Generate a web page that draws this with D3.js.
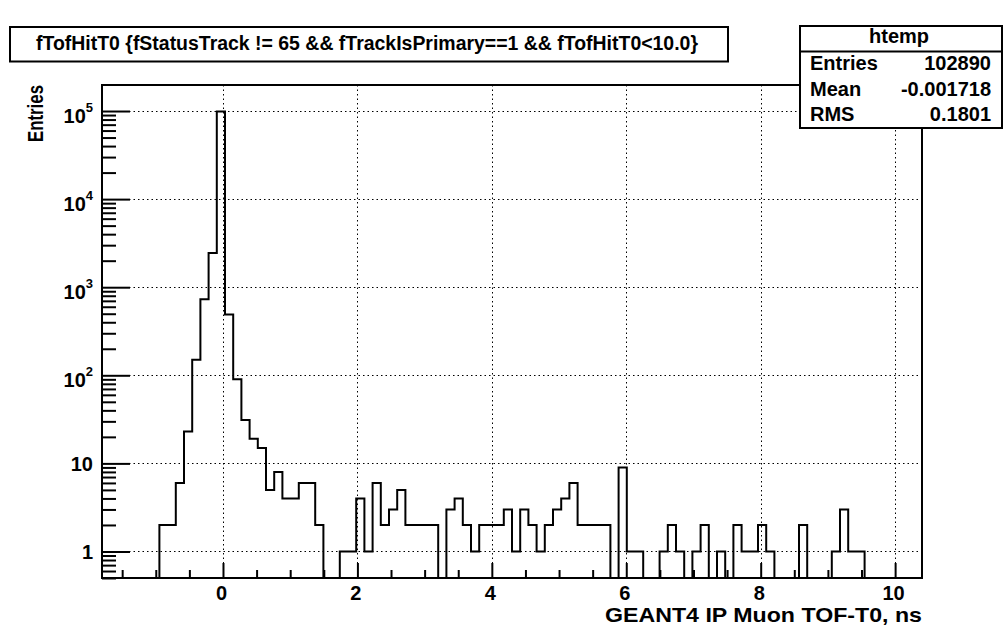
<!DOCTYPE html>
<html>
<head>
<meta charset="utf-8">
<script src="https://cdn.jsdelivr.net/npm/d3@7"></script>
<style>
  body { margin: 0; background: #fff; }
  svg { display: block; }
  text { font-family: "Liberation Sans", Arial, Helvetica, sans-serif; font-weight: bold; fill: #000; }
</style>
</head>
<body>
<script>
// histogram definition: 100 bins from -1.8 to 10.4 ns
var binLow = -1.8;
var binHigh = 10.4;
var nBins = 100;

// bin contents (log y)
var counts = [
  0, 0, 0, 0, 0, 0, 0, 2, 2, 6,
  23, 150, 730, 2450, 98700, 490, 90, 31, 19, 15,
  5, 8, 4, 4, 6, 6, 2, 0, 0, 1,
  1, 4, 1, 6, 2, 3, 5, 2, 2, 2,
  2, 0, 3, 4, 2, 1, 2, 2, 2, 3,
  1, 3, 2, 1, 2, 3, 4, 6, 2, 2,
  2, 2, 0, 9, 1, 1, 0, 0, 1, 2,
  1, 0, 1, 2, 0, 1, 0, 2, 1, 1,
  2, 1, 0, 0, 0, 2, 0, 0, 0, 1,
  3, 1, 1, 0, 0, 0, 0, 0, 0, 0
];

var xMajorTicks = [0, 2, 4, 6, 8, 10];
var xMinorTicks = [-1.5, -1, -0.5, 0.5, 1, 1.5, 2.5, 3, 3.5, 4.5, 5, 5.5, 6.5, 7, 7.5, 8.5, 9, 9.5];
var yMajorTicks = [1, 10, 100, 1000, 10000, 100000];
var yTickExp = ["", "", "2", "3", "4", "5"];
var yTickBase = ["1", "10", "10", "10", "10", "10"];

var titleText = "fTofHitT0 {fStatusTrack != 65 && fTrackIsPrimary==1 && fTofHitT0<10.0}";
var xTitle = "GEANT4 IP Muon TOF-T0, ns";
var yTitle = "Entries";
var statsName = "htemp";
var statsLabels = ["Entries", "Mean", "RMS"];
var statsValues = ["102890", "-0.001718", "0.1801"];

var W = 1003, H = 628;
var margin = {left: 102, top: 85, right: 81, bottom: 50};
var width = W - margin.left - margin.right;   // 820
var height = H - margin.top - margin.bottom;  // 493

var svg = d3.select("body").append("svg")
    .attr("width", W)
    .attr("height", H);

svg.append("rect").attr("width", W).attr("height", H).attr("fill", "#fff");

var x = d3.scaleLinear().domain([binLow, binHigh]).range([0, width]);
var ymax = 2 * d3.max(counts);
var y = d3.scaleLog().domain([0.5, ymax]).range([height, 0]);

var g = svg.append("g").attr("transform", "translate(" + margin.left + "," + margin.top + ")");

g.append("clipPath").attr("id", "frameclip")
  .append("rect").attr("width", width).attr("height", height);

// grid (dotted)
var grid = g.append("g").attr("stroke", "#000").attr("stroke-width", 1)
    .attr("stroke-dasharray", "1.5,3");
grid.selectAll("line.gx").data(xMajorTicks).enter().append("line")
    .attr("x1", function(d) { return Math.round(x(d)) + 0.5; })
    .attr("x2", function(d) { return Math.round(x(d)) + 0.5; })
    .attr("y1", 0).attr("y2", height);
grid.selectAll("line.gy").data(yMajorTicks).enter().append("line")
    .attr("y1", function(d) { return Math.round(y(d)) + 0.5; })
    .attr("y2", function(d) { return Math.round(y(d)) + 0.5; })
    .attr("x1", 0).attr("x2", width);

// histogram outline
var binW = (binHigh - binLow) / nBins;
var pts = [[x(binLow), height]];
counts.forEach(function(c, i) {
  var yy = c > 0 ? y(c) : height;
  pts.push([x(binLow + i * binW), yy]);
  pts.push([x(binLow + (i + 1) * binW), yy]);
});
pts.push([x(binHigh), height]);

g.append("path")
  .attr("clip-path", "url(#frameclip)")
  .attr("d", d3.line()(pts))
  .attr("fill", "none")
  .attr("stroke", "#000")
  .attr("stroke-width", 2)
  .attr("stroke-linejoin", "miter");

// x axis: ticks point up into the frame
var xAxis = d3.axisBottom(x).tickValues(xMajorTicks).tickSize(-15).tickPadding(8)
    .tickFormat(d3.format("d"));
var xg = g.append("g").attr("transform", "translate(0," + height + ")").call(xAxis);
xg.select(".domain").remove();
xg.selectAll("line").attr("stroke-width", 2);
xg.selectAll("text").attr("font-size", 20).attr("font-family", null).attr("dx", -2);

var xMinor = d3.axisBottom(x).tickValues(xMinorTicks).tickSize(-8).tickFormat("");
var xmg = g.append("g").attr("transform", "translate(0," + height + ")").call(xMinor);
xmg.select(".domain").remove();
xmg.selectAll("line").attr("stroke-width", 2);

// y axis: ticks point right
var yAxis = d3.axisLeft(y).tickValues(yMajorTicks).tickSize(-28).tickPadding(9)
    .tickFormat(function() { return ""; });
var yg = g.append("g").call(yAxis);
yg.select(".domain").remove();
yg.selectAll("line").attr("stroke-width", 2);
yg.selectAll("text").each(function(d, i) {
  var t = d3.select(this).attr("font-size", 20).attr("font-family", null)
      .attr("dy", yTickExp[i] ? "11" : "7.5");
  t.append("tspan").text(yTickBase[i]);
  if (yTickExp[i]) {
    t.append("tspan").attr("font-size", 13).attr("dy", -11).text(yTickExp[i]);
  }
});

var yMinorVals = y.ticks().filter(function(v) {
  return yMajorTicks.indexOf(v) < 0 && v <= ymax;
});
var yMinor = d3.axisLeft(y).tickValues(yMinorVals).tickSize(-14).tickFormat("");
var ymg = g.append("g").call(yMinor);
ymg.select(".domain").remove();
ymg.selectAll("line").attr("stroke-width", 2);

// frame
g.append("rect").attr("x", 0).attr("y", 0).attr("width", width).attr("height", height)
  .attr("fill", "none").attr("stroke", "#000").attr("stroke-width", 2);

// axis titles
svg.append("text")
  .attr("x", margin.left + width).attr("y", 622)
  .attr("text-anchor", "end").attr("font-size", 21)
  .attr("textLength", 317).attr("lengthAdjust", "spacingAndGlyphs")
  .text(xTitle);

svg.append("text")
  .attr("transform", "translate(42.5," + margin.top + ") rotate(-90)")
  .attr("text-anchor", "end").attr("font-size", 22)
  .attr("textLength", 57).attr("lengthAdjust", "spacingAndGlyphs")
  .text(yTitle);

// title box
svg.append("rect").attr("x", 10).attr("y", 27).attr("width", 718).attr("height", 34.5)
  .attr("fill", "#fff").attr("stroke", "#000").attr("stroke-width", 2);
svg.append("text").attr("x", 36).attr("y", 50).attr("font-size", 20)
  .attr("textLength", 662).attr("lengthAdjust", "spacingAndGlyphs")
  .text(titleText);

// stats box
var sb = {x: 800, y: 26, w: 202, h: 102};
svg.append("rect").attr("x", sb.x).attr("y", sb.y).attr("width", sb.w).attr("height", sb.h)
  .attr("fill", "#fff").attr("stroke", "#000").attr("stroke-width", 2);
svg.append("line").attr("x1", sb.x).attr("x2", sb.x + sb.w).attr("y1", 51.5).attr("y2", 51.5)
  .attr("stroke", "#000").attr("stroke-width", 2);
svg.append("text").attr("x", sb.x + sb.w / 2 - 2).attr("y", 43).attr("text-anchor", "middle")
  .attr("font-size", 20).text(statsName);

var rowY = [70, 96, 121];
statsLabels.forEach(function(lab, i) {
  svg.append("text").attr("x", 810).attr("y", rowY[i]).attr("font-size", 20).text(lab);
  svg.append("text").attr("x", 991).attr("y", rowY[i]).attr("text-anchor", "end")
    .attr("font-size", 20).text(statsValues[i]);
});
</script>
</body>
</html>
